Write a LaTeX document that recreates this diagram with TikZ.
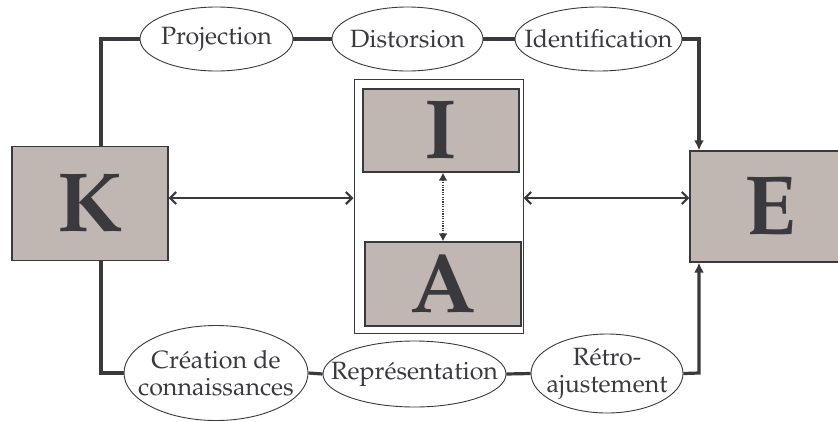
\documentclass[tikz,border=0pt]{standalone}
\usepackage[T1]{fontenc}
\usepackage{mathpazo}
\usetikzlibrary{shapes.geometric,arrows.meta}
\definecolor{boxfill}{RGB}{192,182,178}
\definecolor{ink}{RGB}{58,58,62}
\tikzset{
  x=1pt,y=-1pt,
  bigbox/.style={draw=ink,line width=1.2pt,fill=boxfill,inner sep=0pt,text=ink,font=\fontsize{84}{84}\selectfont\bfseries},
  ovaltext/.style={inner sep=0pt,text=ink,font=\fontsize{25}{27}\selectfont,align=center},
  oval/.style={draw=ink,line width=0.9pt,ellipse,inner sep=0pt,fill=white,label={[ovaltext]center:#1}},
  flow/.style={draw=ink,line width=3.2pt},
  link/.style={draw=ink,line width=2.2pt,{Straight Barb[length=6pt,width=12pt]}-{Straight Barb[length=6pt,width=12pt]}},
  dotlink/.style={draw=ink,line width=2pt,dash pattern=on 1.2pt off 1.2pt,{Latex[length=8pt,width=9pt]}-{Latex[length=8pt,width=9pt]}},
}
\begin{document}
\begin{tikzpicture}
\useasboundingbox (0,0) rectangle (838,421);
% boxes
\node[bigbox,minimum width=156pt,minimum height=114pt] (K) at (90,203.5) {K};
\node[bigbox,minimum width=160pt,minimum height=111pt] (E) at (770,206.5) {E};
\node[draw=ink,line width=1pt,minimum width=169pt,minimum height=254pt,inner sep=0pt] (C) at (438.5,206) {};
\node[bigbox,minimum width=156pt,minimum height=83pt] (I) at (441,130.5) {I};
\node[bigbox,minimum width=156pt,minimum height=84pt] (A) at (443,284) {A};
% ellipses
\node[oval={Projection},minimum width=153pt,minimum height=64pt] (P) at (216.5,39) {};
\node[oval={Distorsion},minimum width=151pt,minimum height=64pt] (D) at (407.5,39) {};
\node[oval={Identification},minimum width=167pt,minimum height=64pt] (Id) at (598.5,39) {};
\node[oval={Création de\\connaissances},minimum width=184pt,minimum height=95pt] (Cr) at (216,373) {};
\node[oval={Représentation},minimum width=183pt,minimum height=66pt] (R) at (414.5,374) {};
\node[oval={Rétro-\\ajustement},minimum width=152pt,minimum height=79pt] (Rt) at (607,373.5) {};
% coordinates
\coordinate (tl) at (101,39);
\coordinate (tr) at (699,39);
\coordinate (bl) at (101,373);
\coordinate (br) at (699,373);
\coordinate (h) at (0,198);
\coordinate (v) at (443,0);
% top flow
\draw[flow] (K.north -| tl) -- (tl) -- (P.west);
\draw[flow] (P.east) -- (D.west);
\draw[flow] (D.east) -- (Id.west);
\draw[flow,-{Latex[length=10pt,width=10pt]}] (Id.east) -- (tr) -- (E.north -| tr);
% bottom flow
\draw[flow] (K.south -| bl) -- (bl) -- (Cr.west);
\draw[flow] (Cr.east) -- (R.west);
\draw[flow] (R.east) -- (Rt.west);
\draw[flow,-{Latex[length=10pt,width=10pt]}] (Rt.east) -- (br) -- (E.south -| br);
% links
\draw[link] (K.east |- h) -- (C.west |- h);
\draw[link] (C.east |- h) -- (E.west |- h);
\draw[dotlink] (I.south -| v) -- (A.north -| v);
\end{tikzpicture}
\end{document}
